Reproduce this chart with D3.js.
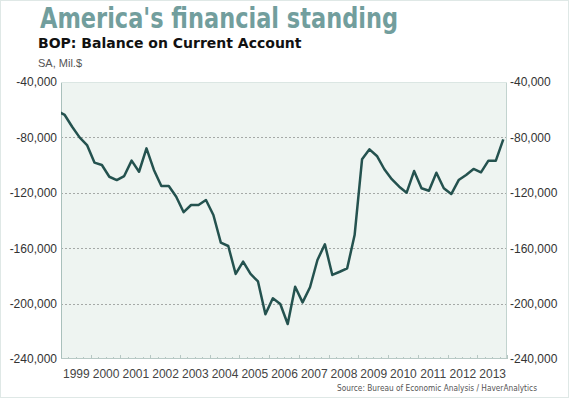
<!DOCTYPE html>
<html>
<head>
<meta charset="utf-8">
<script src="https://cdn.jsdelivr.net/npm/d3@7"></script>
<style>
  body { margin: 0; background: #fff; }
  svg { display: block; }
</style>
</head>
<body>
<svg id="chart"></svg>
<script>
// quarterly values, 1998Q4 (clipped) then 1999Q1 .. 2013Q4
const startYear = 1998.75;
const balance = [
  -61000,
  -63800, -72300, -80000, -85500,
  -98200, -99900, -108400, -110800,
  -107900, -96800, -104800, -87900,
  -103500, -115100, -115100, -122800,
  -134000, -128800, -128800, -125200,
  -136000, -156000, -158400, -178600,
  -169700, -178600, -184000, -207700,
  -196200, -200300, -214700, -187800,
  -199100, -188200, -168500, -157200,
  -179300, -177000, -174500, -150500,
  -95800, -88600, -93400, -103000,
  -110200, -115600, -119900, -104300,
  -116700, -118500, -105500, -116700,
  -120900, -110800, -107100, -102800,
  -105200, -96800, -96800, -81400
];
const years = d3.range(1999, 2014);
const yTicks = [-40000, -80000, -120000, -160000, -200000, -240000];
const gridTicks = [-80000, -120000, -160000, -200000];

const svgWidth = 569, svgHeight = 398;
const margin = { top: 82, bottom: 39, left: 61, right: 62 };
const width = svgWidth - margin.left - margin.right;
const height = svgHeight - margin.top - margin.bottom;

const svg = d3.select('#chart')
  .attr('width', svgWidth)
  .attr('height', svgHeight);

// outer frame
svg.append('rect')
  .attr('x', 0.5).attr('y', 0.5)
  .attr('width', svgWidth - 1).attr('height', svgHeight - 1)
  .attr('fill', '#fff')
  .attr('stroke', '#dfe8e6');

svg.append('text')
  .attr('x', 40).attr('y', 28)
  .attr('textLength', 358)
  .attr('lengthAdjust', 'spacingAndGlyphs')
  .style('font-family', '"Liberation Sans Narrow", "DejaVu Sans Condensed", sans-serif')
  .style('font-weight', 'bold')
  .style('font-size', '29px')
  .attr('fill', '#729e9d')
  .text("America's financial standing");

svg.append('text')
  .attr('x', 38).attr('y', 48)
  .style('font-family', '"DejaVu Sans", Verdana, sans-serif')
  .style('font-weight', 'bold')
  .style('font-size', '14px')
  .attr('fill', '#111')
  .text('BOP: Balance on Current Account');

svg.append('text')
  .attr('x', 38).attr('y', 67)
  .style('font-family', '"Liberation Sans", Arial, sans-serif')
  .style('font-size', '11px')
  .attr('fill', '#555')
  .text('SA, Mil.$');

const g = svg.append('g')
  .attr('transform', 'translate(' + margin.left + ',' + margin.top + ')');

const x = d3.scaleLinear().domain([1999, 2014]).range([0, width]);
const y = d3.scaleLinear().domain([-240000, -40000]).range([height, 0]);

g.append('rect')
  .attr('width', width).attr('height', height)
  .attr('fill', '#eef4f1');

// dashed grid
g.selectAll('.grid')
  .data(gridTicks)
  .enter()
  .append('line')
  .attr('x1', 0).attr('x2', width)
  .attr('y1', d => Math.round(y(d)) + 0.5)
  .attr('y2', d => Math.round(y(d)) + 0.5)
  .attr('stroke', '#a5a9a7')
  .attr('stroke-dasharray', '2,2');

// minor ticks on bottom edge
const quarters = d3.range(1999, 2014.01, 0.25);
g.selectAll('.qtick')
  .data(quarters)
  .enter()
  .append('line')
  .attr('x1', d => Math.round(x(d)) + 0.5)
  .attr('x2', d => Math.round(x(d)) + 0.5)
  .attr('y1', height)
  .attr('y2', d => height - (Math.abs(d - Math.round(d)) < 0.01 ? 4 : 2))
  .attr('stroke', '#b7c7c3');

// frame lines
g.append('line').attr('x1', 0.5).attr('x2', 0.5).attr('y1', 0).attr('y2', height)
  .attr('stroke', '#a9c0bc');
g.append('line').attr('x1', width - 0.5).attr('x2', width - 0.5).attr('y1', 0).attr('y2', height)
  .attr('stroke', '#c2d3cf');
g.append('line').attr('x1', 0).attr('x2', width).attr('y1', height - 0.5).attr('y2', height - 0.5)
  .attr('stroke', '#b7c9c5');
g.append('line').attr('x1', 0).attr('x2', width).attr('y1', 0.5).attr('y2', 0.5)
  .attr('stroke', '#dbe6e3');

// y axes both sides, hyphen minus like the original
const fmt = d => d3.format(',')(d).replace('\u2212', '-');
const leftAxis = d3.axisLeft(y).tickValues(yTicks).tickFormat(fmt).tickSize(0).tickPadding(4);
const rightAxis = d3.axisRight(y).tickValues(yTicks).tickFormat(fmt).tickSize(0).tickPadding(3);

const gl = g.append('g').call(leftAxis);
const gr = g.append('g').attr('transform', 'translate(' + width + ',0)').call(rightAxis);
[gl, gr].forEach(a => {
  a.select('.domain').remove();
  a.selectAll('text')
    .style('font-family', '"Liberation Sans", Arial, sans-serif')
    .style('font-size', '12px')
    .attr('fill', '#333');
});

// year labels centred in each year
const xAxis = d3.axisBottom(x)
  .tickValues(years.map(d => d + 0.5))
  .tickFormat(d => Math.floor(d))
  .tickSize(0)
  .tickPadding(10);
const gx = g.append('g').attr('transform', 'translate(0,' + height + ')').call(xAxis);
gx.select('.domain').remove();
gx.selectAll('text')
  .style('font-family', '"Liberation Sans", Arial, sans-serif')
  .style('font-size', '12px')
  .attr('fill', '#444');

// clipped line
g.append('clipPath').attr('id', 'clip')
  .append('rect').attr('width', width).attr('height', height);

const line = d3.line()
  .x((d, i) => x(startYear + i * 0.25 + 0.125))
  .y(d => y(d));

g.append('path')
  .datum(balance)
  .attr('clip-path', 'url(#clip)')
  .attr('d', line)
  .attr('fill', 'none')
  .attr('stroke', '#24524f')
  .attr('stroke-width', 2.5)
  .attr('stroke-linejoin', 'round');

svg.append('text')
  .attr('x', 537).attr('y', 391)
  .attr('text-anchor', 'end')
  .attr('textLength', 200)
  .attr('lengthAdjust', 'spacingAndGlyphs')
  .style('font-family', '"DejaVu Sans", sans-serif')
  .style('font-size', '8px')
  .attr('fill', '#555')
  .text('Source: Bureau of Economic Analysis / HaverAnalytics');
</script>
</body>
</html>
